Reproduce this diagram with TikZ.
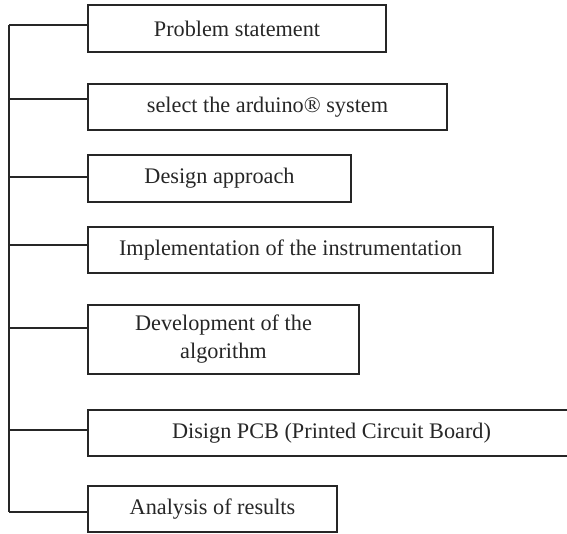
\documentclass[tikz,border=0pt]{standalone}
\usepackage{fontspec}
\setmainfont{Liberation Serif}
\begin{document}
\begin{tikzpicture}[x=1pt,y=-1pt,
  box/.style={draw=black!85, line width=2pt, inner sep=0pt, align=center,
    font=\fontsize{22.25}{28}\selectfont, text=black!85},
  link/.style={draw=black!85, line width=2.8pt}]
\useasboundingbox (0,0) rectangle (567,533);
\clip (0,0) rectangle (567,533);
\node[box, minimum width=298pt, minimum height=47pt] (b1) at (237,28.5) {Problem statement};
\node[box, minimum width=359pt, minimum height=46pt] (b2) at (267.5,107) {select the arduino® system};
\node[box, minimum width=263pt, minimum height=47pt] (b3) at (219.5,178.5) {Design approach};
\node[box, minimum width=405pt, minimum height=46pt] (b4) at (290.5,250) {Implementation of the instrumentation};
\node[box, minimum width=271pt, minimum height=69pt] (b5) at (223.5,339.5) {Development of the\\algorithm};
\node[box, minimum width=487pt, minimum height=46pt] (b6) at (331.5,433) {Disign PCB (Printed Circuit Board)};
\node[box, minimum width=249pt, minimum height=46pt] (b7) at (212.5,509) {Analysis of results};
\coordinate (s1) at (9,25);
\coordinate (s2) at (9,99);
\coordinate (s3) at (9,177);
\coordinate (s4) at (9,245);
\coordinate (s5) at (9,328);
\coordinate (s6) at (9,430);
\coordinate (s7) at (9,512);
\draw[link] (s1) -- (s7);
\foreach \i in {1,...,7} {\draw[link] (s\i) -- (s\i -| b\i.west);}
\end{tikzpicture}
\end{document}
